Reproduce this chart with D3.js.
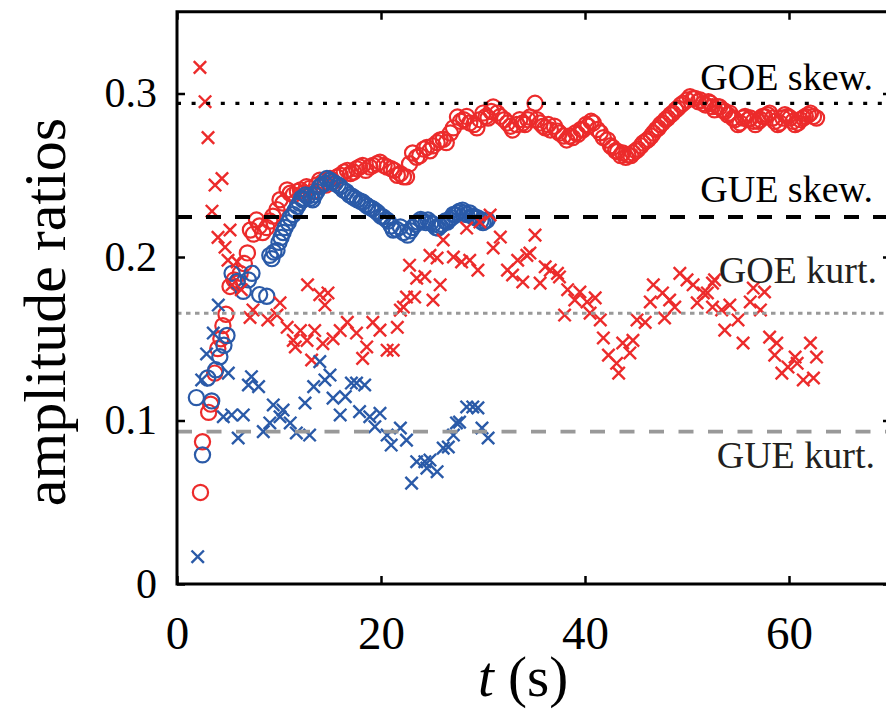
<!DOCTYPE html>
<html>
<head>
<meta charset="utf-8">
<script src="https://cdn.jsdelivr.net/npm/d3@7"></script>
<style>
  body { margin: 0; background: #fff; }
  svg { display: block; }
  svg text { font-family: "Liberation Serif", Tinos, "Times New Roman", Times, "Nimbus Roman", "DejaVu Serif", serif; }
</style>
</head>
<body>
<svg id="chart" width="886" height="711"></svg>
<script>
// Axis ticks
const xTicks = [0, 20, 40, 60];
const yTicks = [0, 0.1, 0.2, 0.3];

// Reference values (random-matrix predictions)
const refNames  = ["GOE skew.", "GUE skew.", "GOE kurt.", "GUE kurt."];
const refValues = [0.294, 0.2245, 0.1656, 0.0932];

// GOE-type measurement: skewness ratio (red circles), [t (s), ratio]
const goeSkew = [
  [2.3,.056],[2.5,.087],[3.1,.105],[3.3,.110],[3.7,.129],[4.0,.144],[4.3,.150],[4.5,.158],[4.8,.165],
  [5.2,.182],[5.6,.186],[5.9,.184],[6.2,.190],[6.6,.196],[6.9,.2025],[7.2,.2165],[7.5,.214],[7.8,.2226],
  [8.1,.219],[8.4,.215],[8.8,.218],[9.1,.222],[9.4,.225],[9.8,.229],[10.1,.235],[10.4,.233],[10.8,.241],
  [11.1,.239],[11.4,.238],[11.8,.240],[12.1,.241],[12.4,.239],[12.7,.243],[13.0,.242],[13.3,.240],[13.7,.244],
  [14.0,.247],[14.3,.246],[14.6,.244],[15.0,.248],[15.3,.246],[15.7,.249],[16.0,.250],[16.4,.252],[16.7,.253],
  [17.0,.251],[17.3,.252],[17.6,.254],[17.9,.255],[18.2,.256],[18.5,.253],[18.9,.255],[19.2,.256],[19.6,.257],
  [19.9,.258],[20.3,.256],[20.6,.255],[21.0,.254],[21.3,.253],[21.6,.250],[21.9,.251],[22.2,.249],[22.5,.249],
  [22.8,.257],[23.1,.2636],[23.5,.261],[23.8,.262],[24.2,.266],[24.5,.267],[24.8,.265],[25.1,.268],[25.5,.270],
  [25.8,.2716],[26.1,.272],[26.4,.270],[26.8,.2758],[27.1,.279],[27.5,.2856],[27.8,.283],[28.1,.284],[28.4,.286],
  [28.7,.282],[29.1,.281],[29.4,.279],[29.7,.284],[30.0,.288],[30.3,.286],[30.5,.285],[30.8,.289],[31.0,.2917],
  [31.4,.288],[31.7,.286],[32.1,.284],[32.4,.282],[32.7,.280],[32.9,.2777],[33.3,.281],[33.6,.284],[33.9,.282],
  [34.1,.281],[34.4,.284],[34.6,.2856],[35.1,.294],[35.3,.284],[35.6,.282],[35.9,.280],[36.1,.279],[36.4,.281],
  [36.6,.2777],[37.0,.280],[37.3,.277],[37.5,.2758],[37.9,.274],[38.2,.2716],[38.5,.274],[38.8,.273],[39.1,.276],
  [39.3,.275],[39.6,.278],[39.8,.2777],[40.1,.281],[40.3,.280],[40.6,.283],[40.8,.282],[41.2,.278],[41.5,.276],
  [41.8,.273],[42.2,.2716],[42.5,.268],[42.7,.267],[43.0,.265],[43.2,.2645],[43.5,.262],[43.7,.2636],[44.0,.261],
  [44.2,.2625],[44.5,.262],[44.7,.2636],[45.0,.265],[45.2,.266],[45.5,.268],[45.7,.2697],[46.0,.271],[46.2,.272],
  [46.5,.274],[46.7,.2758],[47.0,.278],[47.2,.279],[47.4,.281],[47.6,.282],[47.9,.284],[48.1,.285],[48.4,.287],
  [48.6,.288],[48.9,.290],[49.1,.291],[49.4,.293],[49.6,.294],[50.0,.296],[50.3,.298],[50.6,.297],[50.8,.297],
  [51.1,.295],[51.3,.296],[51.6,.294],[51.8,.293],[52.1,.295],[52.3,.294],[52.5,.292],[52.7,.290],[53.0,.292],
  [53.2,.2917],[53.5,.290],[53.7,.289],[54.0,.287],[54.2,.288],[54.5,.285],[54.7,.284],[55.0,.281],[55.2,.282],
  [55.5,.285],[55.7,.286],[56.0,.284],[56.2,.285],[56.5,.283],[56.7,.281],[57.0,.283],[57.2,.284],[57.4,.286],
  [57.6,.286],[57.9,.287],[58.1,.288],[58.4,.285],[58.6,.283],[58.9,.281],[59.1,.282],[59.4,.285],[59.6,.287],
  [59.9,.286],[60.1,.285],[60.4,.283],[60.6,.281],[60.9,.282],[61.1,.284],[61.4,.285],[61.6,.286],[61.9,.287],
  [62.1,.288],[62.4,.286],[62.7,.285]
];

// GUE-type measurement: skewness ratio (blue circles)
const gueSkew = [
  [1.9,.114],[2.5,.079],[3.0,.126],[3.4,.112],[3.8,.131],[4.2,.139],[4.6,.146],[4.9,.152],[5.4,.190],
  [5.9,.185],[6.5,.179],[7.0,.186],[7.35,.190],[8.1,.177],[8.8,.176],[9.1,.201],[9.3,.199],[9.5,.203],
  [9.8,.204],[10.0,.209],[10.2,.212],[10.4,.215],[10.6,.218],[10.9,.221],[11.1,.224],[11.4,.226],[11.6,.2287],
  [11.8,.231],[12.0,.233],[12.2,.236],[12.35,.235],[12.6,.238],[12.8,.237],[13.1,.236],[13.3,.235],[13.5,.238],
  [13.7,.240],[14.0,.243],[14.2,.244],[14.5,.245],[14.7,.248],[15.0,.247],[15.2,.246],[15.5,.245],[15.8,.244],
  [16.0,.243],[16.3,.241],[16.6,.240],[16.9,.238],[17.2,.237],[17.4,.236],[17.7,.235],[18.0,.234],[18.2,.2336],
  [18.5,.232],[18.7,.231],[19.0,.230],[19.2,.2294],[19.5,.228],[19.7,.227],[20.0,.225],[20.2,.2245],[20.5,.223],
  [20.7,.222],[21.0,.219],[21.2,.2165],[21.5,.217],[21.9,.2184],[22.2,.215],[22.6,.2134],[22.9,.216],[23.1,.218],
  [23.4,.220],[23.6,.2214],[23.9,.223],[24.1,.222],[24.4,.221],[24.6,.2226],[24.9,.221],[25.1,.220],[25.4,.218],
  [25.6,.2177],[25.8,.219],[26.0,.220],[26.3,.222],[26.5,.2214],[26.7,.223],[26.9,.224],[27.1,.226],[27.3,.2257],
  [27.5,.227],[27.7,.228],[28.0,.2287],[28.2,.227],[28.4,.226],[28.7,.2269],[28.9,.225],[29.1,.225],[29.3,.224],
  [29.5,.2239],[29.8,.222],[30.0,.221],[30.2,.222],[30.4,.2226]
];

// GOE-type measurement: kurtosis ratio (red crosses)
const goeKurt = [
  [2.25,0.316],[2.75,0.295],[3.04,0.273],[3.43,0.228],[3.73,0.244],[4.02,0.212],[4.41,0.248],[4.71,0.206],
  [5.0,0.198],[5.2,0.2165],[5.4,0.183],[5.9,0.197],[6.3,0.180],[7.16,0.163],[7.45,0.1676],[8.9,0.1615],[9.8,0.1645],
  [10.1,0.172],[10.8,0.157],[11.4,0.149],[11.6,0.145],[12.1,0.155],[12.75,0.149],[12.8,0.183],[13.2,0.137],
  [13.5,0.155],[14.0,0.177],[14.3,0.147],[14.5,0.1706],[14.8,0.178],[15.3,0.150],[16.0,0.155],[16.7,0.160],
  [17.6,0.1535],[18.2,0.138],[18.6,0.145],[19.2,0.160],[19.9,0.1553],[20.6,0.143],[21.2,0.143],[21.6,0.157],
  [21.9,0.1675],[22.2,0.1694],[22.5,0.1755],[22.8,0.195],[23.3,0.1755],[23.5,0.187],[24.3,0.188],[24.8,0.201],
  [25.1,0.1737],[25.5,0.1994],[25.8,0.183],[26.1,0.2104],[27.1,0.200],[27.9,0.197],[28.4,0.2177],[28.7,0.198],
  [29.5,0.192],[29.7,0.2214],[30.7,0.2257],[31.0,0.2055],[31.7,0.2122],[32.4,0.192],[32.9,0.189],[33.4,0.198],
  [33.9,0.1847],[34.3,0.201],[34.6,0.2024],[35.1,0.2134],[35.6,0.184],[36.1,0.194],[36.6,0.192],[37.3,0.190],
  [37.5,0.1878],[38.0,0.1645],[38.3,0.180],[39.0,0.1737],[39.5,0.1786],[40.2,0.1725],[40.5,0.1657],[41.0,0.175],
  [41.5,0.1615],[41.8,0.1505],[42.3,0.140],[43.1,0.135],[43.3,0.129],[43.7,0.1474],[44.4,0.1413],[44.7,0.149],
  [45.1,0.1615],[45.9,0.160],[46.4,0.1725],[46.7,0.183],[47.6,0.178],[47.8,0.1627],[48.3,0.1737],[48.8,0.1694],
  [49.3,0.190],[50.0,0.186],[50.6,0.183],[51.0,0.172],[51.6,0.178],[52.0,0.178],[52.5,0.184],[52.5,0.1694],
  [52.7,0.186],[53.4,0.1676],[53.7,0.1553],[54.2,0.1706],[55.0,0.1615],[55.5,0.1474],[56.2,0.1725],[56.5,0.181],
  [57.2,0.1676],[57.6,0.1786],[58.1,0.151],[58.6,0.140],[58.8,0.1474],[59.3,0.129],[59.9,0.1327],[60.6,0.1388],
  [60.8,0.135],[61.4,0.1248],[62.1,0.1474],[62.4,0.126],[62.7,0.1388]
];

// GUE-type measurement: kurtosis ratio (blue crosses)
const gueKurt = [
  [2.03,0.0167],[2.42,0.1248],[2.9,0.1407],[3.56,0.1535],[4.05,0.1706],[4.54,0.1023],[5.03,0.129],[5.36,0.1034],
  [6.0,0.0893],[6.5,0.1034],[7.0,0.1217],[7.3,0.1268],[8.0,0.1207],[8.46,0.0932],[9.1,0.0985],[9.44,0.1095],
  [10.1,0.1023],[10.4,0.1064],[11.1,0.0985],[11.7,0.0924],[12.55,0.1107],[13.0,0.0911],[13.4,0.1207],[14.0,0.136],
  [14.5,0.1248],[15.0,0.1278],[15.3,0.1137],[16.0,0.1034],[16.5,0.1146],[17.1,0.1229],[17.6,0.1229],[17.9,0.1054],
  [18.4,0.1217],[18.9,0.1023],[19.4,0.0962],[19.9,0.1044],[20.6,0.0911],[21.0,0.085],[21.9,0.0954],[22.5,0.088],
  [23.0,0.0617],[23.5,0.0748],[24.3,0.0748],[24.5,0.0709],[24.8,0.0758],[25.5,0.0687],[26.1,0.0831],[26.6,0.0838],
  [27.1,0.0911],[27.4,0.0985],[27.7,0.099],[28.4,0.1083],[29.0,0.1083],[29.5,0.1077],[29.9,0.0954],[30.5,0.0893]
];

const RED = "#ec2b2b";
const BLUE = "#2a5aa8";
const FONT = '"Liberation Serif", Tinos, "Times New Roman", Times, "Nimbus Roman", "DejaVu Serif", serif';

const svg = d3.select("#chart");
const x = d3.scaleLinear().domain([0, 70]).range([177, 891]);
const y = d3.scaleLinear().domain([0, 0.35]).range([584, 11.75]);

// Scatter marks
const gData = svg.append("g");
function circles(data, color) {
  gData.append("g").selectAll("circle").data(data).join("circle")
    .attr("cx", d => x(d[0])).attr("cy", d => y(d[1])).attr("r", 7.6)
    .attr("fill", "none").attr("stroke", color).attr("stroke-width", 2.2);
}
function crosses(data, color) {
  const s = 6.2;
  gData.append("g").selectAll("path").data(data).join("path")
    .attr("transform", d => `translate(${x(d[0])},${y(d[1])})`)
    .attr("d", `M${-s},${-s}L${s},${s}M${-s},${s}L${s},${-s}`)
    .attr("fill", "none").attr("stroke", color).attr("stroke-width", 2.4);
}
circles(goeSkew, RED);
circles(gueSkew, BLUE);
crosses(goeKurt, RED);
crosses(gueKurt, BLUE);

// Reference lines
const refStyles = [
  { color: "#000", dash: "4,10.6", width: 3.2 },
  { color: "#000", dash: "15,14", width: 4 },
  { color: "#999", dash: "4.5,4.5", width: 3.2 },
  { color: "#999", dash: "15,14.5", width: 3.6 }
];
const gRef = svg.append("g");
refValues.forEach((v, i) => {
  gRef.append("line")
    .attr("x1", x(0)).attr("x2", x(70)).attr("y1", y(v)).attr("y2", y(v))
    .attr("stroke", refStyles[i].color).attr("stroke-width", refStyles[i].width)
    .attr("stroke-dasharray", refStyles[i].dash);
});

// Reference labels
const labelPos = [
  { x: 873, y: 90, color: "#000" },
  { x: 873, y: 202, color: "#000" },
  { x: 877, y: 283, color: "#231f20" },
  { x: 875, y: 468, color: "#231f20" }
];
refNames.forEach((name, i) => {
  svg.append("text").attr("x", labelPos[i].x).attr("y", labelPos[i].y)
    .attr("text-anchor", "end").attr("font-size", 38).attr("font-family", FONT)
    .attr("fill", labelPos[i].color).text(name);
});

// Axes (ticks pointing inward, box frame)
function styleAxis(g) {
  g.attr("font-family", FONT);
  g.select(".domain").remove();
  g.selectAll(".tick line").attr("stroke", "#000").attr("stroke-width", 2.5);
}
const xAxis = svg.append("g").attr("transform", `translate(0,${y(0)})`)
  .call(d3.axisBottom(x).tickValues(xTicks).tickSizeInner(-8).tickSizeOuter(0).tickFormat(d3.format("d")));
styleAxis(xAxis);
xAxis.selectAll(".tick text").attr("y", 65).attr("dy", null)
  .attr("font-size", 47).attr("font-family", FONT).attr("fill", "#000");

const xTop = svg.append("g").attr("transform", `translate(0,${y(0.35)})`)
  .call(d3.axisTop(x).tickValues(xTicks).tickSizeInner(-8).tickSizeOuter(0).tickFormat(""));
styleAxis(xTop);

const yAxis = svg.append("g").attr("transform", `translate(${x(0)},0)`)
  .call(d3.axisLeft(y).tickValues(yTicks).tickSizeInner(-8).tickSizeOuter(0).tickFormat(d => d === 0 ? "0" : d3.format(".1f")(d)));
styleAxis(yAxis);
yAxis.selectAll(".tick text").attr("x", -20).attr("dy", "0.32em")
  .attr("font-size", 42).attr("font-family", FONT).attr("fill", "#000");

const yRight = svg.append("g").attr("transform", `translate(${x(70)},0)`)
  .call(d3.axisRight(y).tickValues(yTicks).tickSizeInner(-8).tickSizeOuter(0).tickFormat(""));
styleAxis(yRight);

svg.append("rect")
  .attr("x", x(0)).attr("y", y(0.35)).attr("width", x(70) - x(0)).attr("height", y(0) - y(0.35))
  .attr("fill", "none").attr("stroke", "#000").attr("stroke-width", 3);

// Axis titles
const xTitle = svg.append("text").attr("x", 523).attr("y", 696).attr("font-family", FONT)
  .attr("text-anchor", "middle").attr("font-size", 57).attr("fill", "#000");
xTitle.append("tspan").attr("font-style", "italic").text("t");
xTitle.append("tspan").text(" (s)");

svg.append("text").attr("transform", "translate(65,312) rotate(-90)").attr("font-family", FONT)
  .attr("text-anchor", "middle").attr("font-size", 60).attr("fill", "#000")
  .text("amplitude ratios");
</script>
</body>
</html>
